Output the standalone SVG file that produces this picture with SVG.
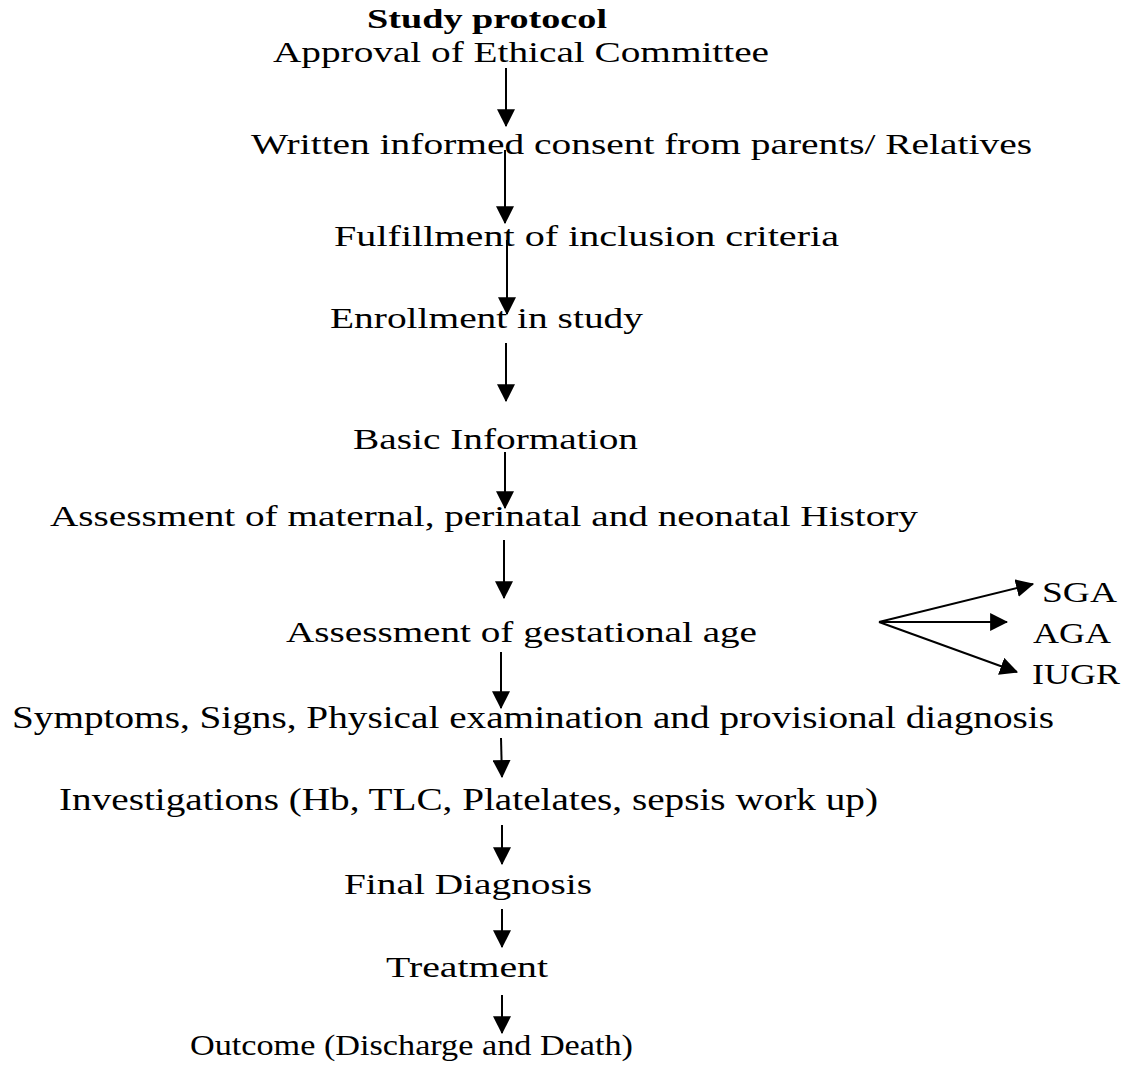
<svg xmlns="http://www.w3.org/2000/svg" width="1130" height="1069" viewBox="0 0 1130 1069">
<style>
text{font-family:"Liberation Serif","Times New Roman",serif;font-size:30px;fill:#000}
.t{font-weight:bold;font-size:27px}
.c{stroke:#000;stroke-width:2;fill:none;marker-end:url(#ah)}
</style>
<defs>
<marker id="ah" markerUnits="userSpaceOnUse" markerWidth="18" markerHeight="18" viewBox="0 0 16 16" refX="15" refY="8" orient="auto">
<path d="M0,0 L16,8 L0,16 z" fill="#000"/>
</marker>
</defs>
<rect width="1130" height="1069" fill="#fff"/>
<g id="title"><text class="t" x="367" y="28" textLength="240" lengthAdjust="spacingAndGlyphs">Study protocol</text></g>
<g id="n1"><text x="273" y="62" textLength="496" lengthAdjust="spacingAndGlyphs">Approval of Ethical Committee</text></g>
<g id="n2"><text x="251" y="154" textLength="781" lengthAdjust="spacingAndGlyphs">Written informed consent from parents/ Relatives</text></g>
<g id="n3"><text x="334" y="246" textLength="505" lengthAdjust="spacingAndGlyphs">Fulfillment of inclusion criteria</text></g>
<g id="n4"><text x="330" y="328" textLength="313" lengthAdjust="spacingAndGlyphs">Enrollment in study</text></g>
<g id="n5"><text x="353" y="449" textLength="285" lengthAdjust="spacingAndGlyphs">Basic Information</text></g>
<g id="n6"><text x="50" y="526" textLength="868" lengthAdjust="spacingAndGlyphs">Assessment of maternal, perinatal and neonatal History</text></g>
<g id="n7"><text x="286" y="642" textLength="471" lengthAdjust="spacingAndGlyphs">Assessment of gestational age</text></g>
<g id="n8"><text x="12" y="728" style="font-size:31px" textLength="1042" lengthAdjust="spacingAndGlyphs">Symptoms, Signs, Physical examination and provisional diagnosis</text></g>
<g id="n9"><text x="59" y="810" style="font-size:31px" textLength="819" lengthAdjust="spacingAndGlyphs">Investigations (Hb, TLC, Platelates, sepsis work up)</text></g>
<g id="n10"><text x="344" y="894" textLength="248" lengthAdjust="spacingAndGlyphs">Final Diagnosis</text></g>
<g id="n11"><text x="386" y="977" textLength="162" lengthAdjust="spacingAndGlyphs">Treatment</text></g>
<g id="n12"><text x="190" y="1055" textLength="443" lengthAdjust="spacingAndGlyphs">Outcome (Discharge and Death)</text></g>
<g id="sga"><text x="1042" y="602" textLength="75" lengthAdjust="spacingAndGlyphs">SGA</text></g>
<g id="aga"><text x="1033" y="643" textLength="78" lengthAdjust="spacingAndGlyphs">AGA</text></g>
<g id="iugr"><text x="1032" y="684" textLength="88" lengthAdjust="spacingAndGlyphs">IUGR</text></g>
<g id="connectors">
<line class="c" x1="506" y1="68" x2="506" y2="126"/>
<line class="c" x1="505" y1="150" x2="505" y2="223"/>
<line class="c" x1="507" y1="240" x2="507" y2="314"/>
<line class="c" x1="506" y1="343" x2="506" y2="401"/>
<line class="c" x1="505" y1="452" x2="505" y2="508"/>
<line class="c" x1="504" y1="540" x2="504" y2="598"/>
<line class="c" x1="501" y1="652" x2="501" y2="708"/>
<line class="c" x1="501" y1="738" x2="502" y2="777"/>
<line class="c" x1="502" y1="825" x2="502" y2="864"/>
<line class="c" x1="502" y1="909" x2="502" y2="947"/>
<line class="c" x1="502" y1="995" x2="502" y2="1033"/>
<line class="c" x1="879" y1="622" x2="1033" y2="584"/>
<line class="c" x1="879" y1="622" x2="1007" y2="622"/>
<line class="c" x1="879" y1="622" x2="1017" y2="672"/>
</g>
</svg>
